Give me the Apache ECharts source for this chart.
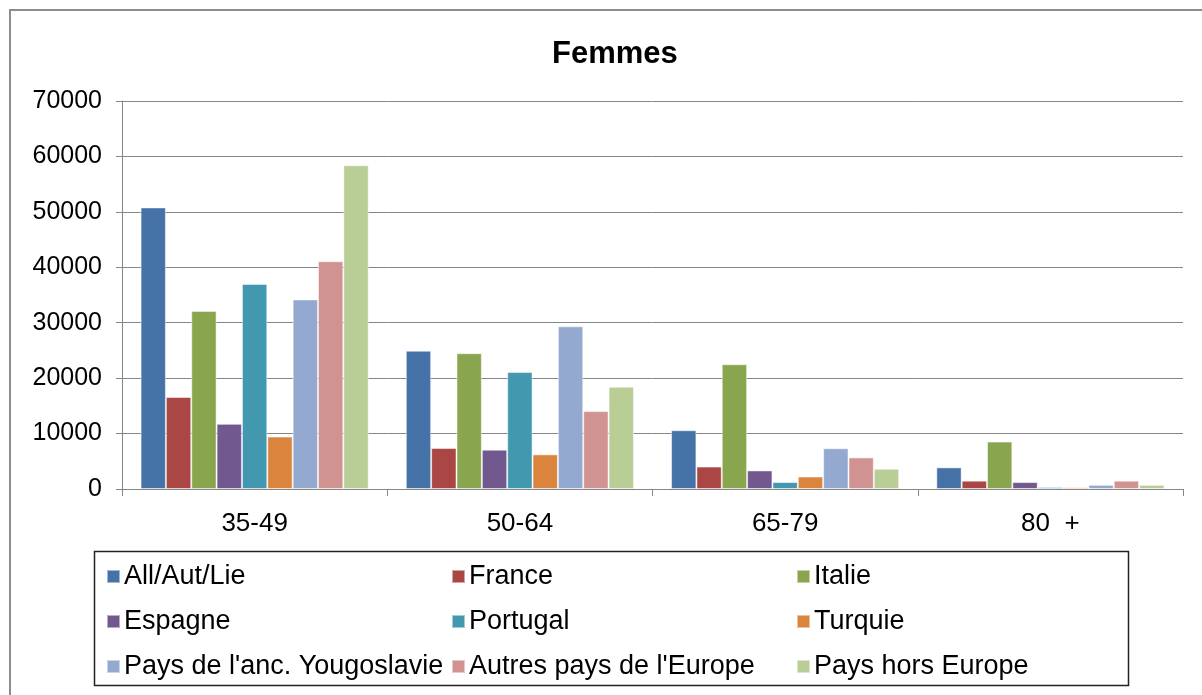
<!DOCTYPE html>
<html>
<head>
    <meta charset="utf-8" />
    <style>
        html, body { margin: 0; padding: 0; background: #fff; }
        #chart { width: 1202px; height: 695px; }
    </style>
    <script src="https://cdn.jsdelivr.net/npm/echarts@6/dist/echarts.min.js"></script>
</head>
<body>
<div id="chart"></div>
<script type="text/javascript">
    // tranches d'age
    var categories = ['35-49', '50-64', '65-79', '80  +'];
    var yTicks = [0, 10000, 20000, 30000, 40000, 50000, 60000, 70000];

    // valeurs
    var allAutLie = [50800, 24950, 10600, 3900];
    var france = [16600, 7400, 4050, 1500];
    var italie = [32100, 24500, 22500, 8550];
    var espagne = [11750, 7100, 3350, 1250];
    var portugal = [37000, 21100, 1250, 350];
    var turquie = [9450, 6250, 2250, 300];
    var yougoslavie = [34200, 29350, 7350, 750];
    var autresEurope = [41100, 14050, 5700, 1500];
    var horsEurope = [58400, 18450, 3650, 750];

    var seriesNames = ['All/Aut/Lie', 'France', 'Italie', 'Espagne', 'Portugal', 'Turquie',
        "Pays de l'anc. Yougoslavie", "Autres pays de l'Europe", 'Pays hors Europe'];
    var seriesData = [allAutLie, france, italie, espagne, portugal, turquie,
        yougoslavie, autresEurope, horsEurope];
    var colors = ['#4572A7', '#AA4643', '#89A54E', '#71588F', '#4198AF', '#DB843D',
        '#93A9CF', '#D19392', '#B9CD96'];

    var font = '"Liberation Sans", Arial, sans-serif';

    // une legende par colonne pour garder l'alignement
    function legendCol(left, names) {
        return {
            orient: 'vertical',
            left: left,
            top: 558,
            itemWidth: 13,
            itemHeight: 13,
            itemGap: 18,
            icon: 'rect',
            data: names,
            textStyle: {
                fontFamily: font,
                fontSize: 27,
                color: '#000',
                padding: [0, 0, 0, -1]
            }
        };
    }

    var series = [];
    for (var i = 0; i < seriesNames.length; i++) {
        series.push({
            name: seriesNames[i],
            type: 'bar',
            data: seriesData[i],
            barGap: '0%',
            barCategoryGap: '14%',
            itemStyle: {
                color: colors[i],
                borderColor: 'rgba(255,255,255,0.5)',
                borderWidth: 1
            }
        });
    }

    var options = {
        animation: false,
        color: colors,
        title: {
            text: 'Femmes',
            left: 547,
            top: 34,
            textStyle: { fontFamily: font, fontSize: 31, fontWeight: 'bold', color: '#000' }
        },
        legend: [
            legendCol(101, [seriesNames[0], seriesNames[3], seriesNames[6]]),
            legendCol(446, [seriesNames[1], seriesNames[4], seriesNames[7]]),
            legendCol(791, [seriesNames[2], seriesNames[5], seriesNames[8]])
        ],
        grid: { left: 122, right: 19, top: 101, bottom: 206 },
        xAxis: {
            type: 'category',
            data: categories,
            axisLine: { lineStyle: { color: '#868686', width: 1 } },
            axisTick: { show: true, length: 7, lineStyle: { color: '#868686' } },
            axisLabel: { fontFamily: font, fontSize: 26, color: '#000', margin: 22 }
        },
        yAxis: {
            type: 'value',
            min: yTicks[0],
            max: yTicks[yTicks.length - 1],
            interval: 10000,
            axisLine: { show: true, lineStyle: { color: '#868686', width: 1 } },
            axisTick: { show: true, length: 6, lineStyle: { color: '#868686' } },
            splitLine: { show: true, lineStyle: { color: '#868686', width: 1 } },
            axisLabel: {
                fontFamily: font, fontSize: 25, color: '#000', margin: 20,
                formatter: function (v) { return String(v); }
            }
        },
        graphic: [
            {
                type: 'rect',
                shape: { x: 10, y: 10, width: 1200, height: 700 },
                style: { fill: 'none', stroke: '#8c8c8c', lineWidth: 2 },
                silent: true
            },
            {
                type: 'rect',
                shape: { x: 94.5, y: 551.5, width: 1034, height: 134 },
                style: { fill: 'none', stroke: '#222', lineWidth: 1.5 },
                silent: true
            }
        ],
        series: series
    };

    var myChart = echarts.init(document.getElementById('chart'));
    myChart.setOption(options);
</script>
</body>
</html>
